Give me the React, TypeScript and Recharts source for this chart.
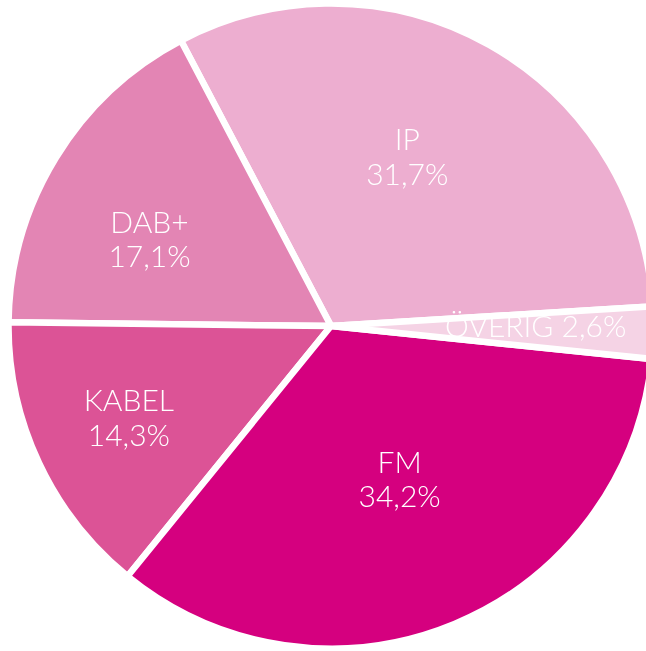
import { PieChart, Pie, Cell } from 'recharts';

const names = ['IP', 'DAB+', 'KABEL', 'FM', 'ÖVERIG'];
const shares = [31.7, 17.1, 14.3, 34.2, 2.6];
const labels = ['31,7%', '17,1%', '14,3%', '34,2%', '2,6%'];

const COLORS = ['#edaed0', '#e385b4', '#dc5396', '#d5007f', '#f5d3e5'];
// label placement per slice: distance from centre (px) and angle nudge (deg)
const LABEL_R = [185.5, 201, 222, 168, 114];
const LABEL_DA = [5.1, 6, -0.7, 1.6, 0.8];

const data = names.map((name, i) => ({ name, value: shares[i], pct: labels[i] }));

const RADIAN = Math.PI / 180;

const renderLabel = ({ cx, cy, midAngle, index }: any) => {
  const a = (midAngle + LABEL_DA[index]) * RADIAN;
  const r = LABEL_R[index];
  const x = cx + r * Math.cos(a);
  const y = cy - r * Math.sin(a);
  const style = { fontFamily: 'Lato, sans-serif', fontWeight: 300, fontSize: 30, fill: '#ffffff' };
  if (index === 4) {
    return (
      <text x={x} y={y + 10.5} textAnchor="start" style={style}>
        {`${names[index]} ${labels[index]}`}
      </text>
    );
  }
  return (
    <text x={x} y={y} textAnchor="middle" style={style}>
      <tspan x={x} dy={-6.75}>{names[index]}</tspan>
      <tspan x={x} dy={34.5}>{labels[index]}</tspan>
    </text>
  );
};

export default function App() {
  return (
    <div style={{ position: 'fixed', left: 0, top: 0, width: 646, height: 651, overflow: 'hidden' }}>
      <PieChart width={720} height={720} margin={{ top: 0, right: 0, bottom: 0, left: 0 }}>
        <Pie
          data={data}
          dataKey="value"
          cx={331}
          cy={326}
          outerRadius={322.5}
          startAngle={3.5}
          endAngle={363.5}
          label={renderLabel}
          labelLine={false}
          isAnimationActive={false}
        >
          {data.map((entry, i) => (
            <Cell key={entry.name} fill={COLORS[i]} stroke="#ffffff" strokeWidth={6.5} />
          ))}
        </Pie>
      </PieChart>
    </div>
  );
}
